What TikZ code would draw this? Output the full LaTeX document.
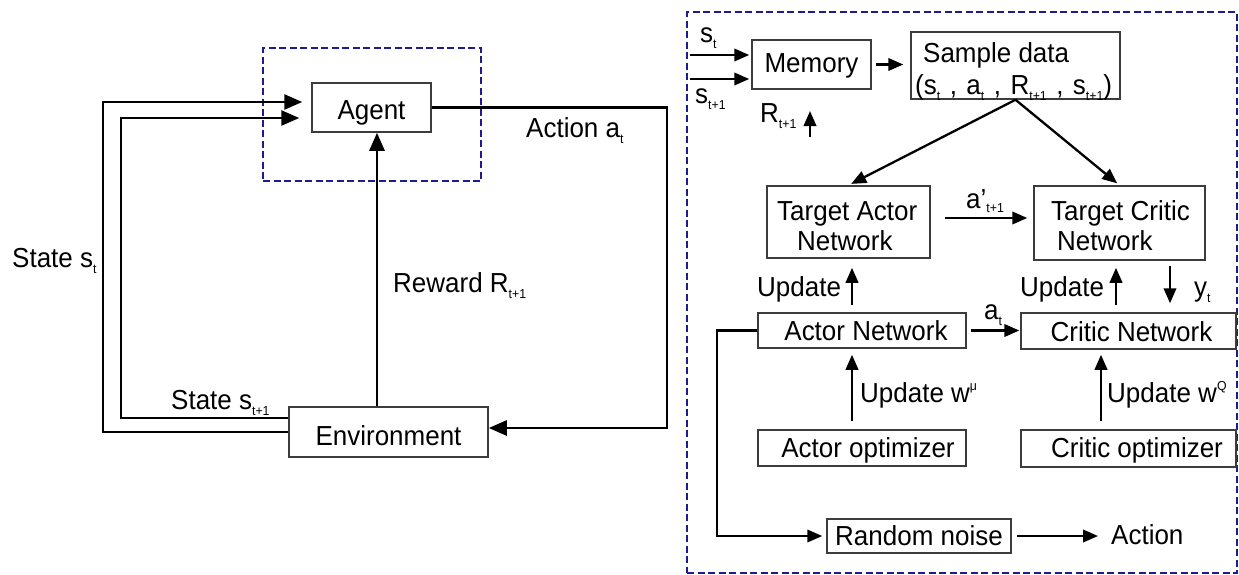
\documentclass[tikz,border=0pt]{standalone}
\usepackage{fontspec}
\setmainfont{Liberation Sans}[FakeStretch=0.945]
\usetikzlibrary{arrows.meta,calc}
\newcommand{\mf}{\fontsize{27.5pt}{31pt}\selectfont}
\newcommand{\mysub}[1]{\raisebox{-6pt}{\fontsize{13pt}{15pt}\selectfont #1}}
\newcommand{\mysubb}[1]{\raisebox{-4pt}{\fontsize{13pt}{15pt}\selectfont #1}}
\newcommand{\mysup}[1]{\raisebox{12pt}{\fontsize{13pt}{15pt}\selectfont #1}}
\newcommand{\cm}{\hspace{9.5pt},\hspace{9.5pt}}
\definecolor{dblue}{RGB}{28,28,140}
\definecolor{boxgray}{RGB}{60,60,60}
\begin{document}
\begin{tikzpicture}[x=1pt,y=-1pt,
  box/.style={draw=boxgray, line width=1.5pt, inner xsep=0pt, inner ysep=0pt,
              text height=18pt, text depth=0pt, font=\mf},
  lbl/.style={inner sep=0pt, font=\mf},
  dbox/.style={draw=dblue, line width=2pt, dash pattern=on 7pt off 3.5pt, inner sep=0pt},
  arrL/.style={line width=2.6pt, -{Triangle[length=18pt,width=15pt]}},
  arrS/.style={line width=2.3pt, -{Triangle[length=15pt,width=12.5pt]}}
]
\useasboundingbox (0,0) rectangle (1239,574);

% ---------- left diagram ----------
\node[dbox, minimum width=218pt, minimum height=133pt] (ldash) at (372,114.5) {};
\node[box, minimum width=119pt, minimum height=49pt, text height=23pt] (agent) at (371.5,107.5) {Agent};
\node[box, minimum width=199pt, minimum height=50pt, text height=26pt] (env) at (388.5,432) {Environment};

\coordinate (c1) at (103,102);
\coordinate (c2) at (121,118);
\coordinate (c3) at (667,428);
\coordinate (c4) at (377,0);

\draw[arrL, shorten >=9pt] (env.west) -| (c1) -- (agent.west |- c1);
\draw[arrL, shorten >=12pt] ([yshift=14pt]env.west) -| (c2) -- (agent.west |- c2);
\draw[arrL] (agent.east) -| (c3) -- (c3 -| env.east);
\draw[arrL] (env.north -| c4) -- (agent.south -| c4);

\node[lbl, anchor=base west] (lst) at (12,267) {State s\mysub{t}};
\node[lbl, anchor=base west] (lact) at (526,137) {Action a\mysub{t}};
\node[lbl, anchor=base west] (lrew) at (393,292) {Reward R\mysub{t+1}};
\node[lbl, anchor=base west] (lst1) at (171,409) {State s\mysub{t+1}};

% ---------- right diagram ----------
\node[dbox, minimum width=550pt, minimum height=561pt] (rdash) at (962,292.5) {};

\node[box, minimum width=119pt, minimum height=49pt, text height=15pt] (mem) at (811.5,64.5) {Memory};
\node[box, minimum width=209pt, minimum height=67pt] (sample) at (1015.5,65.5) {};
\node[lbl, anchor=base west] (sd1) at (923,62) {Sample data};
\node[lbl, anchor=base west] (sd2) at (915,94) {(s\mysub{t}\cm a\mysub{t}\cm R\mysub{t+1}\cm s\mysub{t+1})};

\node[box, minimum width=163pt, minimum height=72pt] (tactor) at (848.5,222) {};
\node[lbl, anchor=base west] (ta1) at (777,220) {Target Actor};
\node[lbl, anchor=base west] (ta2) at (797,250) {Network};

\node[box, minimum width=171pt, minimum height=74pt] (tcritic) at (1119.5,223) {};
\node[lbl, anchor=base west] (tc1) at (1051,220) {Target Critic};
\node[lbl, anchor=base west] (tc2) at (1057,250) {Network};

\node[box, minimum width=208pt, minimum height=35pt, text height=20pt] (actnet) at (862,330.5) {\hspace*{8pt}Actor Network};
\node[box, minimum width=215pt, minimum height=36pt, text height=20pt] (critnet) at (1128.5,331) {\hspace*{6pt}Critic Network};
\node[box, minimum width=208pt, minimum height=36pt] (aopt) at (862,448) {\hspace*{12pt}Actor optimizer};
\node[box, minimum width=215pt, minimum height=37pt] (copt) at (1128.5,448.5) {\hspace*{17pt}Critic optimizer};
\node[box, minimum width=184pt, minimum height=34pt] (rnoise) at (919,536) {Random noise};
\node[lbl, anchor=base west] (actout) at (1111,544) {Action};

% inputs of memory
\coordinate (sin1) at (690,55);
\coordinate (sin2) at (690,79);
\coordinate (rin) at (810,137);
\coordinate (rtip) at (810,111);
\draw[arrS, shorten >=2pt] (sin1) -- (sin1 -| mem.west);
\draw[arrS, shorten >=2pt] (sin2) -- (sin2 -| mem.west);
\draw[arrS] (rin) -- (rtip);
\node[lbl, anchor=base west] (lsin1) at (700,42) {s\mysub{t}};
\node[lbl, anchor=base west] (lsin2) at (695,103) {s\mysub{t+1}};
\node[lbl, anchor=base west] (lrin) at (760,122) {R\mysub{t+1}};

% memory -> sample, sample -> targets
\draw[arrS, shorten <=4pt, shorten >=7pt] (mem.east) -- (sample.west |- mem.east);
\draw[arrS, shorten >=3pt] (sample.south) -- (tactor.north);
\draw[arrS, shorten >=3pt] (sample.south) -- (tcritic.north);

% a' arrow
\coordinate (apy) at (0,218);
\draw[arrS, shorten <=14pt, shorten >=6pt] (tactor.east |- apy) -- (tcritic.west |- apy);
\node[lbl, anchor=base west] (lap) at (966,208) {a'\mysubb{t+1}};

% a_t arrow
\draw[arrS, shorten <=4pt, shorten >=1pt] (actnet.east) -- (critnet.west |- actnet.east);
\node[lbl, anchor=base west] (lat) at (984,319) {a\mysub{t}};

% update arrows
\coordinate (ua) at (852,0);
\coordinate (uc) at (1116,0);
\coordinate (yc) at (1170,0);
\coordinate (uq) at (1101,0);
\draw[arrS, shorten <=7pt, shorten >=9pt] (actnet.north -| ua) -- (tactor.south -| ua);
\draw[arrS, shorten <=7pt, shorten >=7pt] (critnet.north -| uc) -- (tcritic.south -| uc);
\draw[arrS, shorten <=5pt, shorten >=9pt] (tcritic.south -| yc) -- (critnet.north -| yc);
\draw[arrS, shorten <=8pt, shorten >=6pt] (aopt.north -| ua) -- (actnet.south -| ua);
\draw[arrS, shorten <=8pt, shorten >=5pt] (copt.north -| uq) -- (critnet.south -| uq);
\node[lbl, anchor=base west] (lupa) at (757,296) {Update};
\node[lbl, anchor=base west] (lupc) at (1020,296) {Update};
\node[lbl, anchor=base west] (lyt) at (1194,296) {y\mysub{t}};
\node[lbl, anchor=base west] (lwu) at (860,402) {Update w\mysup{μ}};
\node[lbl, anchor=base west] (lwq) at (1107,402) {Update w\mysup{Q}};

% random noise
\coordinate (rn) at (717,0);
\draw[arrS, shorten >=4pt] (actnet.west) -| (rn |- rnoise.west) -- (rnoise.west);
\draw[arrS, shorten <=5pt, shorten >=13pt] (rnoise.east) -- (actout.west |- rnoise.east);
\end{tikzpicture}
\end{document}
